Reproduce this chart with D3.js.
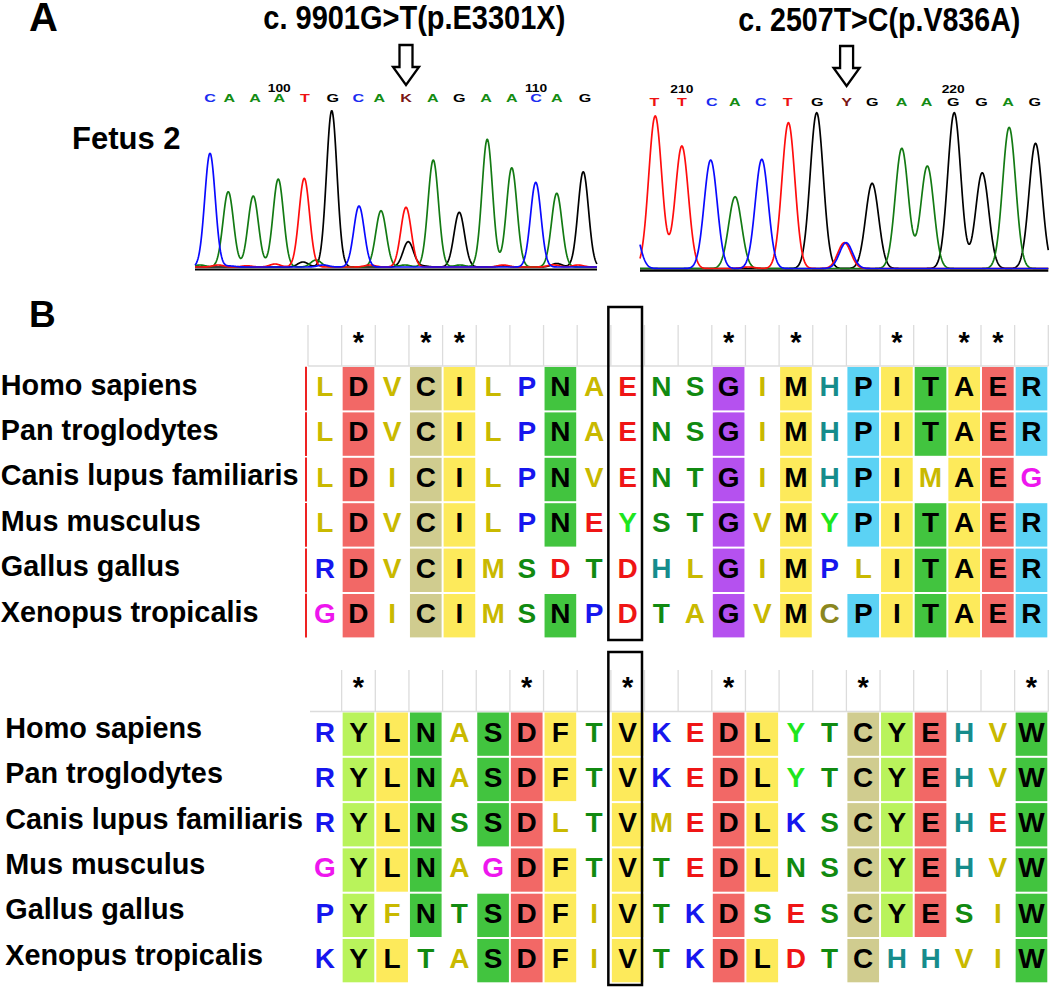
<!DOCTYPE html>
<html><head><meta charset="utf-8">
<script src="https://cdn.jsdelivr.net/npm/d3@7"></script>
<style>body{margin:0;background:#fff}svg{display:block}</style>
</head><body>
<svg id="fig" width="1052" height="990"></svg>
<script>
// ================= DATA =================
const species = ["Homo sapiens","Pan troglodytes","Canis lupus familiaris","Mus musculus","Gallus gallus","Xenopus tropicalis"];

const block1Seqs = [
  "LDVCILPNAENSGIMHPITAER",
  "LDVCILPNAENSGIMHPITAER",
  "LDICILPNVENTGIMHPIMAEG",
  "LDVCILPNEYSTGVMYPITAER",
  "RDVCIMSDTDHLGIMPLITAER",
  "GDICIMSNPDTAGVMCPITAER"];
const block1Shade = [
  ".x.xx..x....x.x.xxxxxx",
  ".x.xx..x....x.x.xxxxxx",
  ".x.xx..x....x.x.xx.xx.",
  ".x.xx..x....x.x.xxxxxx",
  ".x.xx.......x.x..xxxxx",
  ".x.xx..x....x.x.xxxxxx"];
const block1Consensus = " * **       * *  * ** ";

const block2Seqs = [
  "RYLNASDFTVKEDLYTCYEHVW",
  "RYLNASDFTVKEDLYTCYEHVW",
  "RYLNSSDLTVMEDLKSCYEHEW",
  "GYLNAGDFTVTEDLNSCYEHVW",
  "PYFNTSDFIVTKDSESCYESIW",
  "KYLTASDFIVTKDLDTCHHVIW"];
const block2Shade = [
  ".xxx.xxx.x..xx..xxx..x",
  ".xxx.xxx.x..xx..xxx..x",
  ".xxx.xx..x..xx..xxx..x",
  ".xxx..xx.x..xx..xxx..x",
  ".x.x.xxx.x..x...xxx..x",
  ".xx..xxx.x..xx..x....x"];
const block2Consensus = " *    *  *  *   *    *";
const boxedColumn = 9;

// Chromatogram 1 (c.9901G>T)
const chrom1Title = "c. 9901G>T(p.E3301X)";
const chrom1Calls = "CAAATGCAKAGAACAG";
const chrom1CallPos = [0,0.77,1.8,2.77,3.8,4.91,5.93,6.77,7.84,8.91,9.97,11.04,12.07,13.04,13.87,15.0];
const chrom1FirstIndex = 97;
const chrom1Mutant = 8;
const chrom1Blue  = [[0,1137],[5.96,610],[13.03,847],[4.53,20],[0.8,10]];
const chrom1Green = [[0.73,753],[1.73,710],[2.73,880],[6.84,563],[8.93,1070],[11.09,1277],[12.07,993],[13.87,737],[4.24,70],[-0.4,20],[10.0,20],[7.8,20]];
const chrom1Red   = [[3.77,887],[7.84,597],[0.33,20],[1.47,12],[2.6,30],[6.4,20],[11.73,20],[13.73,22],[14.72,20]];
const chrom1Black = [[4.87,1563],[7.93,253],[9.97,547],[14.93,953],[3.72,50],[8.52,10],[11.72,12],[13.87,35]];

// Chromatogram 2 (c.2507T>C)
const chrom2Title = "c. 2507T>C(p.V836A)";
const chrom2Calls = "TTCACTGYGAAGGAG";
const chrom2CallPos = [0,1.01,2.11,2.96,3.91,4.9,5.99,7.07,8.01,9.09,10.01,10.99,12.03,13.01,13.99];
const chrom2FirstIndex = 209;
const chrom2Mutant = 7;
const chrom2Blue  = [[-0.8,450],[2.07,1085],[3.95,1092],[7.05,258]];
const chrom2Green = [[2.97,718],[9.10,1202],[10.04,1025],[13.05,1412]];
const chrom2Red   = [[0.03,1525],[1.01,1225],[4.93,1458],[6.99,258],[3.45,15]];
const chrom2Black = [[5.97,1558],[8.01,852],[11.03,1558],[12.06,958],[14.02,1252]];

// ================= STYLE =================
const FONT = "'Liberation Sans', Arial, Helvetica, sans-serif";
const fillColor = {D:"#f26866",E:"#f26866",C:"#d0cc8f",I:"#fdea5b",L:"#fdea5b",M:"#fdea5b",V:"#fdea5b",A:"#fdea5b",F:"#fdea5b",
  N:"#42c43f",T:"#42c43f",S:"#42c43f",W:"#42c43f",G:"#b551ef",P:"#5bd2f4",R:"#5bd2f4",K:"#5bd2f4",Y:"#b9f35b",H:"#5bd2f4"};
const textColor = {L:"#c9b900",V:"#c9b900",I:"#c9b900",M:"#c9b900",A:"#c9b900",F:"#c9b900",
  P:"#1616ee",R:"#1616ee",K:"#1616ee",N:"#118a11",S:"#118a11",T:"#118a11",W:"#118a11",
  H:"#168c8c",D:"#ef1515",E:"#ef1515",G:"#ee16ee",Y:"#1ee61e",C:"#8a8620"};
const baseColor = {A:"#148c14",C:"#1a2cf0",G:"#000000",T:"#ee1111",K:"#7a1414",Y:"#7a1414"};
const chanColor = {blue:"#0a0aff",green:"#137a13",red:"#ff0d0d",black:"#000000"};

const svg = d3.select("#fig");

// ================= PANEL LABELS =================
svg.append("text").attr("x",29).attr("y",30.7).attr("font-family",FONT).attr("font-weight","bold")
  .attr("font-size",40).text("A");
svg.append("text").attr("x",29).attr("y",326.7).attr("font-family",FONT).attr("font-weight","bold")
  .attr("font-size",37).text("B");
svg.append("text").attr("x",72).attr("y",149.3).attr("font-family",FONT).attr("font-weight","bold")
  .attr("font-size",31).text("Fetus 2");

// ================= CHROMATOGRAMS =================
function drawChrom(cfg){
  const g = svg.append("g");
  const x = d3.scaleLinear().domain(cfg.domain).range(cfg.xRange);
  const y = d3.scaleLinear().domain([0,1600]).range([cfg.traceBase, cfg.traceBase-160]);
  const sigma = cfg.sigma;
  const us = d3.range(cfg.domain[0], cfg.domain[1]+1e-9, 0.02);
  const line = d3.line().x(d=>x(d[0])).y(d=>y(d[1]));
  const channels = [["black",cfg.black],["green",cfg.green],["red",cfg.red],["blue",cfg.blue]];
  channels.forEach(([name,peaks])=>{
    const pts = us.map(u=>[u, d3.sum(peaks, p=>p[1]*Math.exp(-((u-p[0])**2)/(2*sigma*sigma)))]);
    g.append("path").attr("d",line(pts)).attr("fill","none")
      .attr("stroke",chanColor[name]).attr("stroke-width",1.7).attr("stroke-linejoin","round");
  });
  // axis line
  g.append("line").attr("x1",cfg.xRange[0]).attr("x2",cfg.xRange[1])
    .attr("y1",cfg.axisY).attr("y2",cfg.axisY).attr("stroke","#000").attr("stroke-width",2.2);
  // base calls
  const calls = cfg.calls.split("");
  g.selectAll("text.call").data(calls).join("text").attr("class","call")
    .attr("transform",(d,i)=>`translate(${x(cfg.callPos[i])},${cfg.callY}) scale(1.4,1)`)
    .attr("text-anchor","middle").attr("font-family",FONT).attr("font-weight","bold")
    .attr("font-size",11.5).attr("fill",d=>baseColor[d]).text(d=>d);
  // position numbers
  const ticks = calls.map((d,i)=>i).filter(i=>(cfg.firstIndex+i)%10===0);
  g.selectAll("text.num").data(ticks).join("text").attr("class","num")
    .attr("transform",i=>`translate(${x(cfg.callPos[i])},${cfg.numY}) scale(1.2,1)`)
    .attr("text-anchor","middle").attr("font-family",FONT).attr("font-weight","bold")
    .attr("font-size",11.5).attr("fill","#000").text(i=>cfg.firstIndex+i);
  // arrow
  const cx = x(cfg.callPos[cfg.mutant]);
  const ay0 = cfg.arrowTop, ay1 = ay0+22, ay2 = ay0+40;
  g.append("path").attr("d",`M${cx-6.5},${ay0}L${cx+6.5},${ay0}L${cx+6.5},${ay1}L${cx+13},${ay1}L${cx},${ay2}L${cx-13},${ay1}L${cx-6.5},${ay1}Z`)
    .attr("fill","#fff").attr("stroke","#000").attr("stroke-width",2.3).attr("stroke-linejoin","miter");
  // title
  g.append("text").attr("x",cfg.titleX).attr("y",cfg.titleY).attr("font-family",FONT)
    .attr("font-weight","bold").attr("font-size",32.5).attr("textLength",cfg.titleW)
    .attr("lengthAdjust","spacingAndGlyphs").text(cfg.title);
}

drawChrom({domain:[-0.6,15.48], xRange:[195,597], traceBase:267, axisY:269.5, sigma:0.21,
  blue:chrom1Blue, green:chrom1Green, red:chrom1Red, black:chrom1Black,
  calls:chrom1Calls, callPos:chrom1CallPos, firstIndex:chrom1FirstIndex, mutant:chrom1Mutant,
  callY:102.3, numY:91.7, arrowTop:45, title:chrom1Title, titleX:263.3, titleY:28.5, titleW:302});
drawChrom({domain:[-0.53,14.49], xRange:[640,1048.3], traceBase:268.5, axisY:270.7, sigma:0.24,
  blue:chrom2Blue, green:chrom2Green, red:chrom2Red, black:chrom2Black,
  calls:chrom2Calls, callPos:chrom2CallPos, firstIndex:chrom2FirstIndex, mutant:chrom2Mutant,
  callY:106, numY:93.3, arrowTop:46, title:chrom2Title, titleX:738.3, titleY:31, titleW:282});

// ================= ALIGNMENTS =================
const nCols = block1Seqs[0].length;
const colScale = d3.scaleBand().domain(d3.range(nCols)).range([308,1048.3]).padding(0);

function drawBlock(cfg){
  const g = svg.append("g");
  const rows = d3.scaleBand().domain(species).range(cfg.rowRange).padding(0);
  const bw = colScale.bandwidth(), rh = rows.bandwidth();
  // header grid
  const bounds = d3.range(cfg.firstBound, nCols+1);
  g.selectAll("line.hv").data(bounds).join("line").attr("class","hv")
    .attr("x1",i=>i===nCols? colScale(nCols-1)+bw : colScale(i)).attr("x2",i=>i===nCols? colScale(nCols-1)+bw : colScale(i))
    .attr("y1",cfg.headerTop).attr("y2",cfg.rowRange[0]).attr("stroke","#dcdcdc").attr("stroke-width",1.3);
  g.append("line").attr("x1",cfg.hLineX).attr("x2",colScale(nCols-1)+bw)
    .attr("y1",cfg.rowRange[0]).attr("y2",cfg.rowRange[0]).attr("stroke","#dcdcdc").attr("stroke-width",1.3);
  // consensus stars
  const stars = cfg.consensus.split("").map((c,i)=>({c,i})).filter(d=>d.c==="*");
  g.selectAll("text.star").data(stars).join("text").attr("class","star")
    .attr("x",d=>colScale(d.i)+bw/2).attr("y",cfg.headerTop+27)
    .attr("text-anchor","middle").attr("font-family",FONT).attr("font-weight","bold")
    .attr("font-size",29).attr("fill","#000").text(d=>d.c);
  // cells
  const cells = [];
  cfg.seqs.forEach((s,r)=>s.split("").forEach((aa,c)=>cells.push({sp:species[r],aa,c,filled:cfg.shade[r][c]==="x"})));
  g.selectAll("rect.cell").data(cells.filter(d=>d.filled)).join("rect").attr("class","cell")
    .attr("x",d=>colScale(d.c)+1).attr("y",d=>rows(d.sp)+1)
    .attr("width",bw-2).attr("height",rh-2).attr("fill",d=>fillColor[d.aa]);
  g.selectAll("text.aa").data(cells).join("text").attr("class","aa")
    .attr("x",d=>colScale(d.c)+bw/2).attr("y",d=>rows(d.sp)+30)
    .attr("text-anchor","middle").attr("font-family",FONT).attr("font-weight","bold")
    .attr("font-size",28).attr("fill",d=>d.filled?"#000":textColor[d.aa]).text(d=>d.aa);
  // species labels
  g.selectAll("text.sp").data(species).join("text").attr("class","sp")
    .attr("x",cfg.labelX).attr("y",d=>rows(d)+cfg.labelDy)
    .attr("font-family",FONT).attr("font-weight","bold").attr("font-size",28.8).attr("fill","#000").text(d=>d);
  // red marker line
  if(cfg.redLine){
    g.selectAll("line.red").data(species).join("line").attr("class","red")
      .attr("x1",306).attr("x2",306).attr("y1",d=>rows(d)+0.8).attr("y2",d=>rows(d)+rh-0.8)
      .attr("stroke","#ee2222").attr("stroke-width",2);
  }
  // boxed column
  g.append("rect").attr("x",colScale(boxedColumn)-2.5).attr("y",cfg.boxTop)
    .attr("width",bw).attr("height",cfg.boxBottom-cfg.boxTop)
    .attr("fill","none").attr("stroke","#000").attr("stroke-width",2.5);
}

drawBlock({seqs:block1Seqs, shade:block1Shade, consensus:block1Consensus,
  headerTop:325, rowRange:[366,638.4], firstBound:0, hLineX:308, labelX:0.8, labelDy:28.5,
  redLine:true, boxTop:307, boxBottom:640});
drawBlock({seqs:block2Seqs, shade:block2Shade, consensus:block2Consensus,
  headerTop:670, rowRange:[711.5,983.3], firstBound:1, hLineX:310, labelX:5.3, labelDy:26.5,
  redLine:false, boxTop:652, boxBottom:985});
</script>
</body></html>
